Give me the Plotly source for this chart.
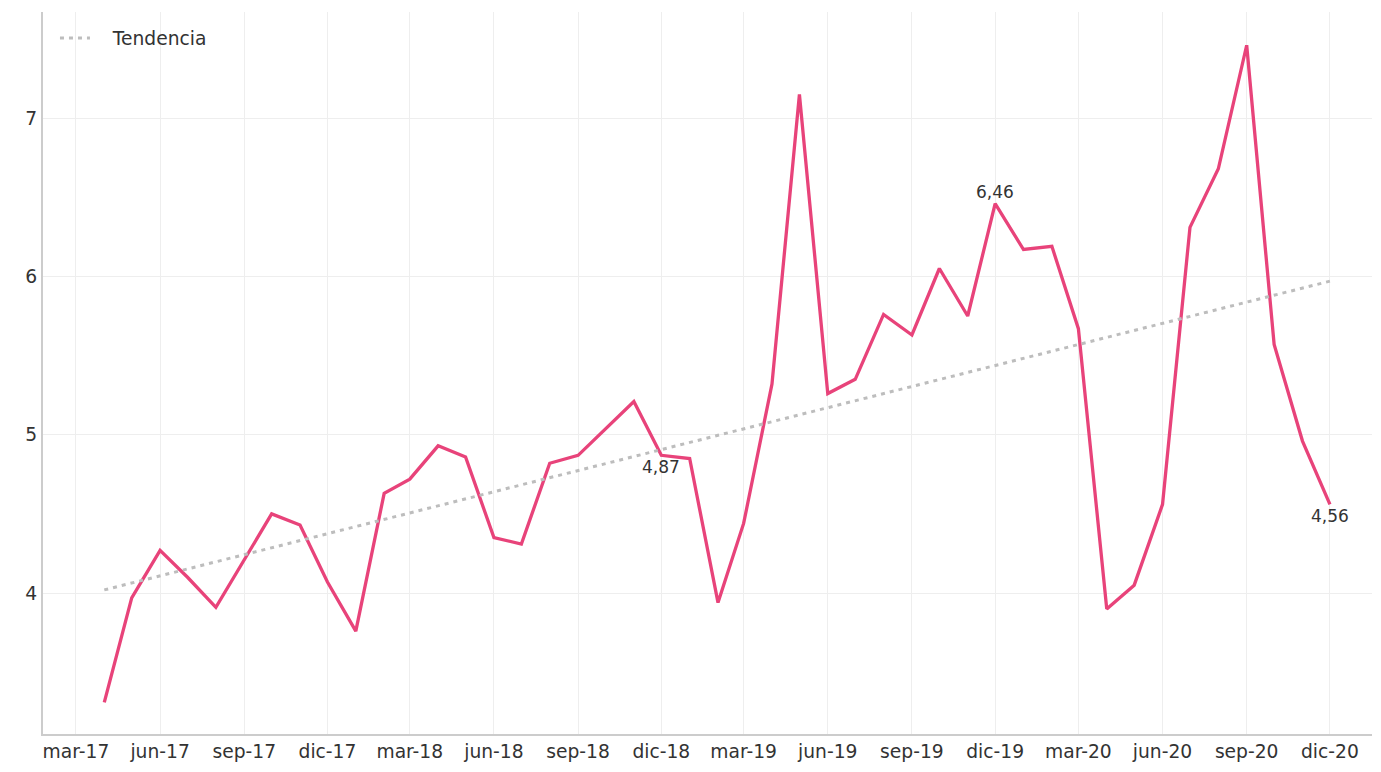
import plotly.graph_objects as go
import pandas as pd

months = pd.date_range("2017-04-01", "2020-12-01", freq="MS")
values = [3.31, 3.97, 4.27, 4.10, 3.91, 4.21, 4.50, 4.43, 4.07, 3.76,
          4.63, 4.72, 4.93, 4.86, 4.35, 4.31, 4.82, 4.87, 5.04, 5.21,
          4.87, 4.85, 3.94, 4.44, 5.32, 7.15, 5.26, 5.35, 5.76, 5.63,
          6.05, 5.75, 6.46, 6.17, 6.19, 5.67, 3.90, 4.05, 4.56, 6.31,
          6.68, 7.46, 5.57, 4.96, 4.56]
trend_dates = ["2017-04-01", "2020-12-01"]
trend_values = [4.02, 5.97]

tick_dates = pd.date_range("2017-03-01", "2020-12-01", freq="3MS")
tick_labels = ["mar-17", "jun-17", "sep-17", "dic-17", "mar-18", "jun-18", "sep-18", "dic-18",
               "mar-19", "jun-19", "sep-19", "dic-19", "mar-20", "jun-20", "sep-20", "dic-20"]

labeled = {"2018-12-01": ("4,87", "below"), "2019-12-01": ("6,46", "above"), "2020-12-01": ("4,56", "below")}

fig = go.Figure()
fig.add_trace(go.Scatter(x=months, y=values, mode="lines", showlegend=False,
                         line=dict(color="#E8437A", width=3.3)))
fig.add_trace(go.Scatter(x=trend_dates, y=trend_values, mode="lines",
                         name="\u00a0\u00a0\u00a0Tendencia",
                         line=dict(color="#BDBDBD", width=3, dash="4px,5px")))

val_map = dict(zip([d.strftime("%Y-%m-%d") for d in months], values))
for d, (txt, pos) in labeled.items():
    fig.add_annotation(x=d, y=val_map[d], text=txt, showarrow=False,
                       yshift=-12 if pos == "below" else 12,
                       font=dict(size=17, color="#333333"))

fig.update_layout(
    width=1365, height=756,
    margin=dict(l=35, r=1, t=4, b=30),
    plot_bgcolor="white", paper_bgcolor="white",
    font=dict(family="DejaVu Sans", size=18.7, color="#333333"),
    separators=",.",
    legend=dict(x=0.009, y=0.99, xanchor="left", yanchor="top", itemwidth=30,
                bgcolor="rgba(255,255,255,0)", font=dict(size=18.7, color="#333333")),
    xaxis=dict(range=["2017-01-24", "2021-01-16"], tickvals=tick_dates, ticktext=tick_labels,
               showgrid=True, gridcolor="#EEEEEE", gridwidth=1,
               showline=True, linecolor="#CCCCCC", linewidth=2, ticks="", zeroline=False,
               tickfont=dict(size=18.7)),
    yaxis=dict(range=[3.11, 7.67], tickvals=[4, 5, 6, 7], showgrid=True, gridcolor="#EEEEEE",
               showline=True, linecolor="#CCCCCC", linewidth=2, ticks="", zeroline=False,
               tickfont=dict(size=18.7)),
)
fig.write_html("out.html")
